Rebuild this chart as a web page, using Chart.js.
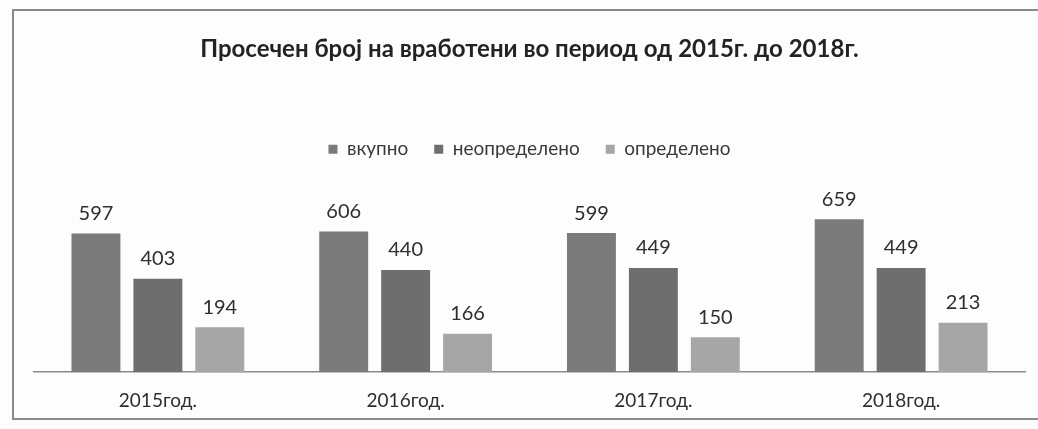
<!DOCTYPE html>
<html>
<head>
<meta charset="utf-8">
<script src="https://cdn.jsdelivr.net/npm/chart.js@4.4.0/dist/chart.umd.min.js"></script>
<style>
  html, body { margin: 0; padding: 0; background: #fdfdfd; }
  #wrap { position: relative; width: 1038px; height: 429px; overflow: hidden; }
  #frame {
    position: absolute; left: 12px; top: 9px; width: 1040px; height: 411px;
    border: 2px solid #8a8a8a; border-right: none; box-sizing: border-box;
  }
  #c { position: absolute; left: 0; top: 0; }
</style>
</head>
<body>
<div id="wrap">
  <div id="frame"></div>
  <canvas id="c" width="1038" height="429"></canvas>
</div>
<script>
const years = ['2015год.', '2016год.', '2017год.', '2018год.'];
const vkupno = [597, 606, 599, 659];
const neopredeleno = [403, 440, 449, 449];
const opredeleno = [194, 166, 150, 213];

const colors = {
  vkupno: '#7b7b7b',
  neopredeleno: '#6e6e6e',
  opredeleno: '#a6a6a6',
  text: '#2e2e2e',
};

Chart.defaults.font.family = 'Lato';
Chart.defaults.color = colors.text;

// values above the bars
const valueLabels = {
  id: 'valueLabels',
  afterDatasetsDraw(chart) {
    const ctx = chart.ctx;
    ctx.save();
    ctx.font = '20px Lato';
    ctx.fillStyle = colors.text;
    ctx.textAlign = 'center';
    ctx.textBaseline = 'middle';
    chart.data.datasets.forEach((ds, i) => {
      chart.getDatasetMeta(i).data.forEach((bar, j) => {
        ctx.fillText(String(ds.data[j]), bar.x, bar.y - 20);
      });
    });
    ctx.restore();
  },
};

new Chart(document.getElementById('c'), {
  type: 'bar',
  data: {
    labels: years,
    datasets: [
      { label: 'вкупно', data: vkupno, backgroundColor: colors.vkupno },
      { label: 'неопределено', data: neopredeleno, backgroundColor: colors.neopredeleno },
      { label: 'определено', data: opredeleno, backgroundColor: colors.opredeleno },
    ],
  },
  options: {
    responsive: false,
    animation: false,
    layout: { padding: { left: 34, right: 13, top: 0, bottom: 0 } },
    categoryPercentage: 0.75,
    barPercentage: 0.79,
    plugins: {
      title: {
        display: true,
        text: 'Просечен број на вработени во период од 2015г. до 2018г.',
        font: { size: 24, weight: 'bold' },
        color: '#232323',
        padding: { top: 35, bottom: 50 },
      },
      legend: {
        labels: {
          boxWidth: 9,
          boxHeight: 9,
          font: { size: 19 },
          color: '#3a3a3a',
          padding: 26,
        },
      },
      tooltip: { enabled: false },
    },
    scales: {
      x: {
        grid: { display: false, drawTicks: false },
        border: { display: true, color: '#8a8a8a', width: 1.5 },
        ticks: { padding: 17, font: { size: 19 }, color: '#2e2e2e' },
      },
      y: {
        display: false,
        min: 0,
        max: 876,
      },
    },
  },
  plugins: [valueLabels],
});
</script>
</body>
</html>
